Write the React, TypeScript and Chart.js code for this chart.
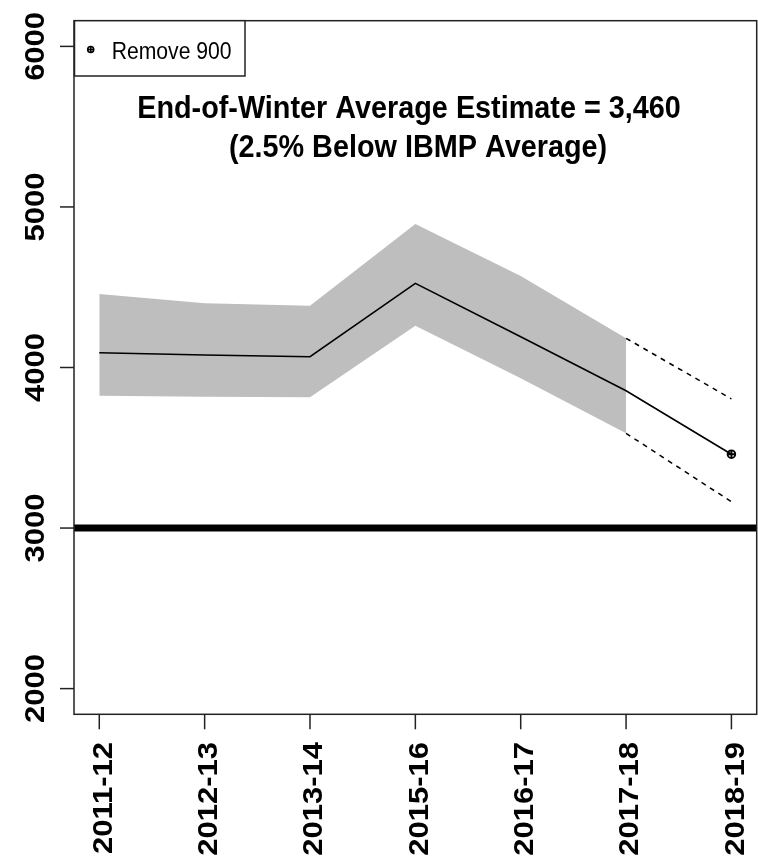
import React, { useEffect, useRef } from "react";
import { Chart, registerables } from "chart.js";
Chart.register(...registerables);

const categories = ["2011-12", "2012-13", "2013-14", "2015-16", "2016-17", "2017-18", "2018-19"];
const estimate = [4092, 4078, 4067, 4524, 4192, 3855, 3460];
const upperBand: (number | null)[] = [4458, 4400, 4385, 4894, 4570, 4182, null];
const lowerBand: (number | null)[] = [3824, 3818, 3814, 4260, 3933, 3590, null];
const projUpper: (number | null)[] = [null, null, null, null, null, 4182, 3804];
const projLower: (number | null)[] = [null, null, null, null, null, 3590, 3164];
const removed: (number | null)[] = [null, null, null, null, null, null, 3460];
const yTicks = [2000, 3000, 4000, 5000, 6000];
const threshold = 3000;
const titleLines = ["End-of-Winter Average Estimate = 3,460", "(2.5% Below IBMP Average)"];
const legendLabel = "Remove 900";

const FONT = "'Liberation Sans', Arial, sans-serif";

const toXY = (arr: (number | null)[]) =>
  arr
    .map((v, i) => (v === null ? null : { x: i + 1, y: v }))
    .filter((p) => p !== null) as { x: number; y: number }[];

const drawCirclePlus = (ctx: CanvasRenderingContext2D, x: number, y: number, r: number, lw: number) => {
  ctx.save();
  ctx.strokeStyle = "#000";
  ctx.lineWidth = lw;
  ctx.beginPath();
  ctx.arc(x, y, r, 0, Math.PI * 2);
  ctx.moveTo(x - r - 0.5, y);
  ctx.lineTo(x + r + 0.5, y);
  ctx.moveTo(x, y - r - 0.5);
  ctx.lineTo(x, y + r + 0.5);
  ctx.stroke();
  ctx.restore();
};

const rPlotPlugin = {
  id: "rplot",
  afterDraw(chart: any) {
    const ctx: CanvasRenderingContext2D = chart.ctx;
    const { left, right, top, bottom } = chart.chartArea;
    const xs = chart.scales.x;
    const ys = chart.scales.y;
    ctx.save();
    ctx.strokeStyle = "#222";
    ctx.fillStyle = "#000";
    ctx.lineWidth = 1.5;
    // box
    ctx.strokeRect(left, top, right - left, bottom - top);

    // y axis ticks + labels
    ctx.font = `bold 31px ${FONT}`;
    ctx.textAlign = "center";
    ctx.textBaseline = "alphabetic";
    yTicks.forEach((v) => {
      const py = ys.getPixelForValue(v);
      ctx.beginPath();
      ctx.moveTo(left - 14, py);
      ctx.lineTo(left, py);
      ctx.stroke();
      ctx.save();
      ctx.translate(44, py);
      ctx.scale(0.9, 1);
      ctx.rotate(-Math.PI / 2);
      ctx.fillText(String(v), 0, 0);
      ctx.restore();
    });

    // x axis ticks + labels
    ctx.textAlign = "right";
    categories.forEach((c, i) => {
      const px = xs.getPixelForValue(i + 1);
      ctx.beginPath();
      ctx.moveTo(px, bottom);
      ctx.lineTo(px, bottom + 15);
      ctx.stroke();
      ctx.save();
      ctx.translate(px + 12.4, 742);
      ctx.scale(0.9, 1);
      ctx.rotate(-Math.PI / 2);
      ctx.fillText(c, 0, 0);
      ctx.restore();
    });

    // title
    ctx.textAlign = "center";
    ctx.font = `bold 32px ${FONT}`;
    const centers = [409, 418];
    const baselines = [118, 156.5];
    titleLines.forEach((t, i) => {
      ctx.save();
      ctx.translate(centers[i], baselines[i]);
      ctx.scale(0.9, 1);
      ctx.fillText(t, 0, 0);
      ctx.restore();
    });

    // legend
    const lx = left + 0.5;
    const ly = top;
    const lw = 245 - lx;
    const lh = 76 - ly;
    ctx.fillStyle = "#fff";
    ctx.fillRect(lx, ly, lw, lh);
    ctx.strokeRect(lx, ly, lw, lh);
    drawCirclePlus(ctx, 90.7, 49.5, 3, 1.6);
    ctx.fillStyle = "#000";
    ctx.textAlign = "left";
    ctx.font = `23.5px ${FONT}`;
    ctx.save();
    ctx.translate(111.7, 59);
    ctx.scale(0.9, 1);
    ctx.fillText(legendLabel, 0, 0);
    ctx.restore();

    ctx.restore();
  },
};

const markerPlugin = {
  id: "marker",
  afterDatasetsDraw(chart: any) {
    const xs = chart.scales.x;
    const ys = chart.scales.y;
    removed.forEach((v, i) => {
      if (v === null) return;
      drawCirclePlus(chart.ctx, xs.getPixelForValue(i + 1), ys.getPixelForValue(v), 3.8, 1.9);
    });
  },
};

export default function App() {
  const ref = useRef<HTMLCanvasElement | null>(null);
  useEffect(() => {
    if (!ref.current) return;
    const chart = new Chart(ref.current, {
      type: "line",
      data: {
        datasets: [
          {
            label: "upper",
            data: toXY(upperBand),
            borderWidth: 0,
            pointRadius: 0,
            backgroundColor: "#BEBEBE",
            fill: "+1",
            order: 10,
          },
          {
            label: "lower",
            data: toXY(lowerBand),
            borderWidth: 0,
            pointRadius: 0,
            fill: false,
            order: 10,
          },
          {
            label: "threshold",
            data: [
              { x: 0.76, y: threshold },
              { x: 7.24, y: threshold },
            ],
            borderColor: "#000",
            borderWidth: 7,
            pointRadius: 0,
            fill: false,
            order: 5,
          },
          {
            label: "projUpper",
            data: toXY(projUpper),
            borderColor: "#000",
            borderWidth: 1.5,
            borderDash: [5, 5],
            pointRadius: 0,
            fill: false,
            order: 3,
          },
          {
            label: "projLower",
            data: toXY(projLower),
            borderColor: "#000",
            borderWidth: 1.5,
            borderDash: [5, 5],
            pointRadius: 0,
            fill: false,
            order: 3,
          },
          {
            label: "estimate",
            data: toXY(estimate),
            borderColor: "#000",
            borderWidth: 1.6,
            pointRadius: 0,
            fill: false,
            order: 1,
          },
          {
            label: legendLabel,
            data: toXY(removed),
            borderWidth: 0,
            pointRadius: 0,
            showLine: false,
            fill: false,
            order: 0,
          },
        ],
      },
      options: {
        responsive: false,
        animation: false,
        devicePixelRatio: 1,
        events: [],
        layout: { padding: { left: 74, right: 1.3, top: 20.7, bottom: 147.7 } },
        scales: {
          x: { type: "linear", min: 0.76, max: 7.24, display: false },
          y: { type: "linear", min: 1840, max: 6160, display: false },
        },
        plugins: {
          legend: { display: false },
          tooltip: { enabled: false },
          title: { display: false },
          filler: { drawTime: "beforeDatasetsDraw" },
        },
        elements: { line: { tension: 0 } },
      } as any,
      plugins: [rPlotPlugin, markerPlugin],
    });
    return () => chart.destroy();
  }, []);
  return (
    <div style={{ position: "absolute", left: 0, top: 0, width: 758, height: 862, background: "#fff" }}>
      <canvas ref={ref} width={758} height={862} style={{ display: "block" }} />
    </div>
  );
}
